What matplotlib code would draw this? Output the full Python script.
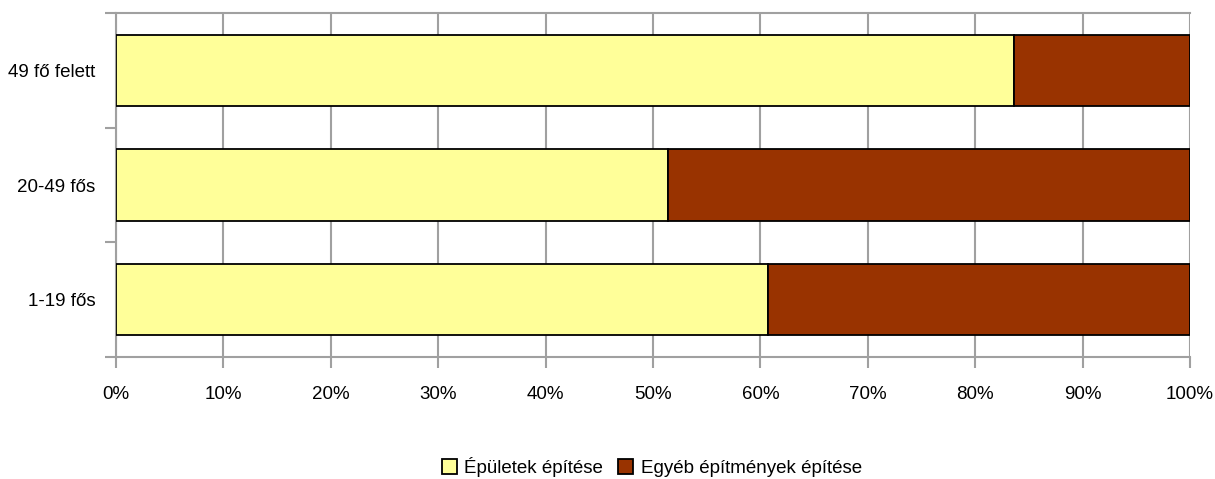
import matplotlib.pyplot as plt
import numpy as np
from matplotlib.patches import Patch
from matplotlib.ticker import FixedLocator

# Data (share in percent), bottom to top
categories = ['1-19 fős', '20-49 fős', '49 fő felett']
epuletek = [60.7, 51.4, 83.6]
egyeb = [39.3, 48.6, 16.4]
series_names = ['Épületek építése', 'Egyéb építmények építése']
x_ticks = [0, 10, 20, 30, 40, 50, 60, 70, 80, 90, 100]

YELLOW = '#FFFF99'
BROWN = '#993300'
GRID = '#A0A0A0'

plt.rcParams['font.family'] = ['Liberation Sans', 'DejaVu Sans']

fig = plt.figure(figsize=(12.15, 4.79), dpi=100)
ax = fig.add_axes([116 / 1215, 1 - 357 / 479, (1190 - 116) / 1215, (357 - 13) / 479])

y = np.arange(len(categories))
ax.barh(y, epuletek, height=0.62, color=YELLOW, edgecolor='black', linewidth=1.3, zorder=3)
ax.barh(y, egyeb, left=epuletek, height=0.62, color=BROWN, edgecolor='black', linewidth=1.3, zorder=3)

ax.set_xlim(0, 100)
ax.set_ylim(-0.5, len(categories) - 0.5)
ax.set_xticks(x_ticks)
ax.set_xticklabels([f'{v}%' for v in x_ticks], fontsize=13.5)
ax.set_yticks(y)
ax.set_yticklabels(categories, fontsize=13.5)
ax.tick_params(axis='y', length=0, pad=15)
ax.yaxis.set_minor_locator(FixedLocator(np.arange(-0.5, len(categories), 1.0)))
ax.tick_params(axis='y', which='minor', length=8, width=1.5, color=GRID)
ax.tick_params(axis='x', length=8, width=1.5, color=GRID, pad=13)

ax.grid(axis='x', color=GRID, linewidth=1.5, zorder=0)
for side in ['left', 'bottom', 'top']:
    ax.spines[side].set_color(GRID)
    ax.spines[side].set_linewidth(1.5)
ax.spines['right'].set_visible(False)

handles = [Patch(facecolor=YELLOW, edgecolor='black', linewidth=1.3),
           Patch(facecolor=BROWN, edgecolor='black', linewidth=1.3)]
fig.legend(handles, series_names, loc='center', bbox_to_anchor=(652 / 1215, 1 - 467 / 479),
           ncol=2, frameon=False, fontsize=13.5, handlelength=0.8, handleheight=0.8,
           handletextpad=0.4, columnspacing=0.8)

fig.savefig('out.png', dpi=100)
